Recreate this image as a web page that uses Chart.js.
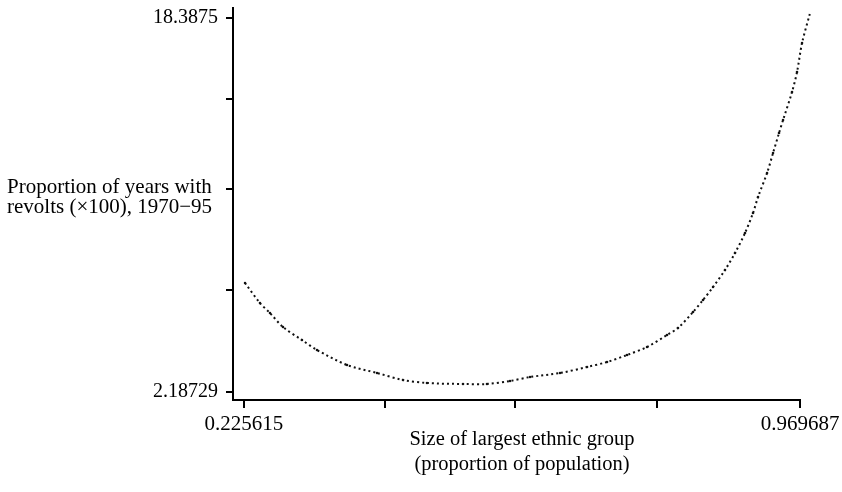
<!DOCTYPE html>
<html>
<head>
<meta charset="utf-8">
<script src="https://cdn.jsdelivr.net/npm/chart.js@4.4.0/dist/chart.umd.min.js"></script>
<style>
  html, body { margin: 0; padding: 0; background: #fff; }
  #wrap { width: 842px; height: 492px; }
</style>
</head>
<body>
<div id="wrap"><canvas id="chart" width="842" height="492"></canvas></div>
<script>
// size of largest ethnic group vs predicted proportion of years with revolts
const groupSize = [0.2270, 0.2470, 0.2604, 0.2778, 0.3032, 0.3233, 0.3635, 0.4036, 0.4384, 0.4705,
  0.5187, 0.5508, 0.5816, 0.6084, 0.6485, 0.6847, 0.7114, 0.7382, 0.7650, 0.7917,
  0.8064, 0.8265, 0.8399, 0.8533, 0.8693, 0.8827, 0.8961, 0.9068, 0.9135, 0.9256,
  0.9336, 0.9416, 0.9470, 0.9590, 0.9657, 0.9724, 0.9831];
const revolts = [6.908, 6.042, 5.609, 5.002, 4.439, 4.006, 3.357, 3.010, 2.707, 2.577,
  2.534, 2.534, 2.664, 2.837, 3.010, 3.270, 3.486, 3.790, 4.136, 4.656,
  4.959, 5.652, 6.172, 6.735, 7.471, 8.207, 9.073, 9.940, 10.632, 11.672,
  12.538, 13.404, 13.967, 15.180, 16.046, 17.302, 18.601];

const xTicks = [0.225615, 0.4143, 0.5883, 0.7783, 0.969687];
const xLabels = ["0.225615", "", "", "", "0.969687"];
const yTicks = [2.18729, 6.61, 10.98, 14.90, 18.3875];
const yLabels = ["2.18729", "", "", "", "18.3875"];

const yTitle = ["Proportion of years with", "revolts (\u00d7100), 1970\u221295"];
const xTitle = ["Size of largest ethnic group", "(proportion of population)"];

const FAMILY = "'Liberation Serif', 'Times New Roman', serif";
const FONT = { family: FAMILY, size: 20 };
const XFONT = { family: FAMILY, size: 21 };

const titles = {
  id: "titles",
  afterDraw(chart) {
    const ctx = chart.ctx;
    ctx.save();
    ctx.fillStyle = "#000";
    ctx.textBaseline = "middle";
    ctx.font = `21px ${FAMILY}`;
    ctx.textAlign = "left";
    yTitle.forEach((t, i) => ctx.fillText(t, 7, 187 + i * 20));
    ctx.font = `20.5px ${FAMILY}`;
    ctx.textAlign = "center";
    xTitle.forEach((t, i) => ctx.fillText(t, 522, 440 + i * 25));
    ctx.restore();
  },
};

const points = groupSize.map((x, i) => ({ x: x, y: revolts[i] }));

new Chart(document.getElementById("chart"), {
  type: "line",
  data: {
    datasets: [
      {
        data: points,
        borderColor: "#111",
        borderWidth: 2,
        borderDash: [2, 3],
        pointRadius: 1.3,
        pointBackgroundColor: "#111",
        pointBorderWidth: 0,
        tension: 0.3,
        clip: false,
      },
    ],
  },
  options: {
    responsive: false,
    animation: false,
    devicePixelRatio: 1,
    layout: { padding: { top: 8, right: 42, left: 0, bottom: 0 } },
    plugins: { legend: { display: false }, tooltip: { enabled: false } },
    scales: {
      x: {
        type: "linear",
        bounds: "data",
        afterDataLimits: (s) => { s.min = 0.2109; s.max = 0.969687; },
        afterBuildTicks: (s) => { s.ticks = xTicks.map((v) => ({ value: v })); },
        afterFit: (s) => { s.height = 92; s.paddingLeft = 0; s.paddingRight = 0; },
        ticks: {
          callback: (v, i) => xLabels[i],
          font: XFONT,
          color: "#000",
          padding: 4,
          maxRotation: 0,
          autoSkip: false,
        },
        grid: { drawOnChartArea: false, tickLength: 8, color: "#000", lineWidth: 2 },
        border: { color: "#000", width: 2 },
      },
      y: {
        type: "linear",
        bounds: "data",
        afterDataLimits: (s) => { s.min = 1.8408; s.max = 18.8206; },
        afterBuildTicks: (s) => { s.ticks = yTicks.map((v) => ({ value: v })); },
        afterFit: (s) => { s.width = 233; s.paddingTop = 0; s.paddingBottom = 0; },
        ticks: {
          callback: (v, i) => yLabels[i],
          font: FONT,
          color: "#000",
          padding: 8,
          autoSkip: false,
        },
        grid: { drawOnChartArea: false, tickLength: 7, color: "#000", lineWidth: 2 },
        border: { color: "#000", width: 2 },
      },
    },
  },
  plugins: [titles],
});
</script>
</body>
</html>
